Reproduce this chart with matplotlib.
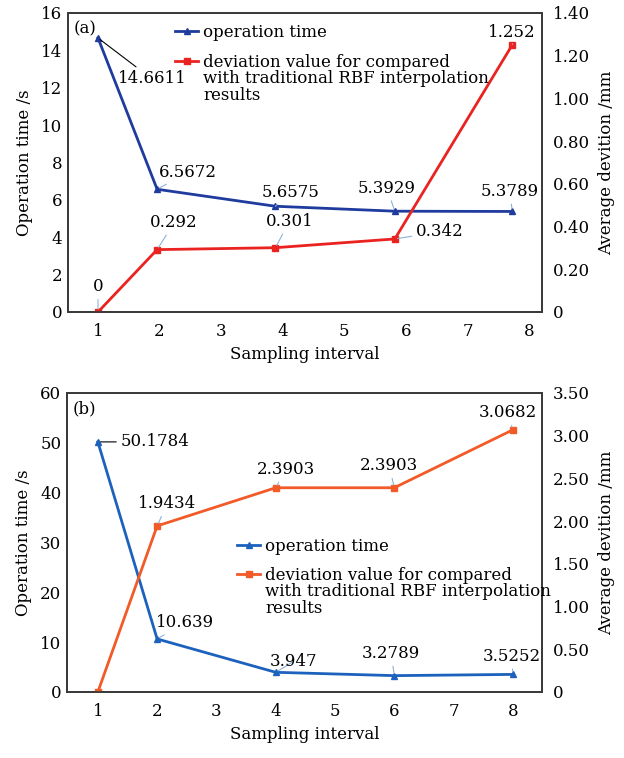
"""
Operation time vs. average deviation for different sampling intervals, panels (a) and (b).
"""

import matplotlib
matplotlib.use("Agg")
import matplotlib.pyplot as plt

plt.rcParams['font.family'] = ['DejaVu Serif']
plt.rcParams['font.size'] = 12

# ---- data ----
# panel (a): point positions as drawn (slightly compressed vs. tick marks)
x_a = [1, 1.96, 3.88, 5.82, 7.73]
time_a = [14.6611, 6.5672, 5.6575, 5.3929, 5.3789]
dev_a = [0, 0.292, 0.301, 0.342, 1.252]

# panel (b)
x_b = [1, 2, 4, 6, 8]
time_b = [50.1784, 10.639, 3.947, 3.2789, 3.5252]
dev_b = [0, 1.9434, 2.3903, 2.3903, 3.0682]
dev_b_labels = ['', '1.9434', '2.3903', '2.3903', '3.0682']

x_ticks = [1, 2, 3, 4, 5, 6, 7, 8]
y_ticks_a = [0, 2, 4, 6, 8, 10, 12, 14, 16]
y2_ticks_a = [0, 0.2, 0.4, 0.6, 0.8, 1.0, 1.2, 1.4]
y2_labels_a = ['0', '0.20', '0.40', '0.60', '0.80', '1.00', '1.20', '1.40']
y_ticks_b = [0, 10, 20, 30, 40, 50, 60]
y2_ticks_b = [0, 0.5, 1.0, 1.5, 2.0, 2.5, 3.0, 3.5]
y2_labels_b = ['0', '0.50', '1.00', '1.50', '2.00', '2.50', '3.00', '3.50']

LEG_TIME = 'operation time'
LEG_DEV = 'deviation value for compared'
LEG_DEV_REST = 'with traditional RBF interpolation\nresults'

# label offsets in pixels (dx, dy) from each point
off_time_a = [(54, -41), (31, 17), (15, 14), (-8, 23), (-3, 20)]
off_dev_a = [(0, 25), (17, 27), (14, 26), (45, 7), (-1, 12)]
off_time_b = [(57, 0), (28, 16), (18, 11), (-3, 22), (-1, 18)]
off_dev_b = [(0, 25), (10, 22), (10, 18), (-5, 22), (-5, 17)]

LEADER = '#8db3d8'
SPINE = '#3a3a3a'


def style_axes(ax, ax2):
    for a in (ax, ax2):
        for s in a.spines.values():
            s.set_color(SPINE)
            s.set_linewidth(1.3)
        a.tick_params(length=0)
    ax.tick_params(axis='y', pad=4)
    ax.tick_params(axis='x', pad=8)
    ax2.tick_params(axis='y', pad=8)


def label_points(ax, xs, ys, texts, offsets, first_dark=False):
    for i, (x, y, t, off) in enumerate(zip(xs, ys, texts, offsets)):
        if t == '':
            continue
        col = 'black' if (first_dark and i == 0) else LEADER
        ax.annotate(t, xy=(x, y), xytext=off, textcoords='offset pixels',
                    ha='center', va='center', fontsize=12,
                    arrowprops=dict(arrowstyle='-', color=col, lw=0.8,
                                    shrinkA=1, shrinkB=2))


def draw_panel(fig, rect, xs, t, d, dev_texts, c_time, c_dev, xlim,
               yt, y2t, y2l, ylim2, off_t, off_d, tag, leg_anchor):
    ax = fig.add_axes(rect)
    ax2 = ax.twinx()
    ax.plot(xs, t, color=c_time, lw=2, marker='^', ms=5, label=LEG_TIME)
    ax2.plot(xs, d, color=c_dev, lw=2, marker='s', ms=4.5, label=LEG_DEV)

    ax.set_xlim(*xlim)
    ax.set_xticks(x_ticks)
    ax.set_ylim(yt[0], yt[-1])
    ax.set_yticks(yt)
    ax2.set_ylim(*ylim2)
    ax2.set_yticks(y2t)
    ax2.set_yticklabels(y2l)

    ax.set_ylabel('Operation time /s', labelpad=6)
    ax2.set_ylabel('Average devition /mm', labelpad=6)
    ax.set_xlabel('Sampling interval', labelpad=4)
    style_axes(ax, ax2)

    label_points(ax, xs, t, [f'{v:g}' for v in t], off_t, first_dark=True)
    label_points(ax2, xs, d, dev_texts, off_d)

    ax.text(0.012, 0.975, tag, transform=ax.transAxes, ha='left', va='top')

    h1, l1 = ax.get_legend_handles_labels()
    h2, l2 = ax2.get_legend_handles_labels()
    leg = ax2.legend(h1 + h2, l1 + l2, loc='upper left', bbox_to_anchor=leg_anchor,
                     frameon=False, handlelength=1.4, handletextpad=0.3,
                     labelspacing=0.75, borderpad=0, borderaxespad=0, fontsize=12)
    # continuation lines of the second legend entry, hung under its first line
    # (zorder above the legend so the legend text is placed before this is drawn)
    ax2.annotate(LEG_DEV_REST, xy=(0, 0), xycoords=leg.get_texts()[1],
                 xytext=(0, 1), textcoords='offset pixels',
                 ha='left', va='top', fontsize=12, linespacing=1.0, zorder=10)
    return ax, ax2


fig = plt.figure(figsize=(6.24, 7.58), dpi=100)

draw_panel(fig, [0.109, 0.5884, 0.7596, 0.3945], x_a, time_a, dev_a,
           [f'{v:g}' for v in dev_a], '#1f3b9e', '#ea2320', (0.513, 8.21),
           y_ticks_a, y2_ticks_a, y2_labels_a, (0, 1.4),
           off_time_a, off_dev_a, '(a)', (0.226, 0.962))

draw_panel(fig, [0.1074, 0.0871, 0.761, 0.3945], x_b, time_b, dev_b,
           dev_b_labels, '#1c62bd', '#f25a28', (0.48, 8.49),
           y_ticks_b, y2_ticks_b, y2_labels_b, (0, 3.5),
           off_time_b, off_dev_b, '(b)', (0.358, 0.516))

fig.savefig('out.png', dpi=100)
